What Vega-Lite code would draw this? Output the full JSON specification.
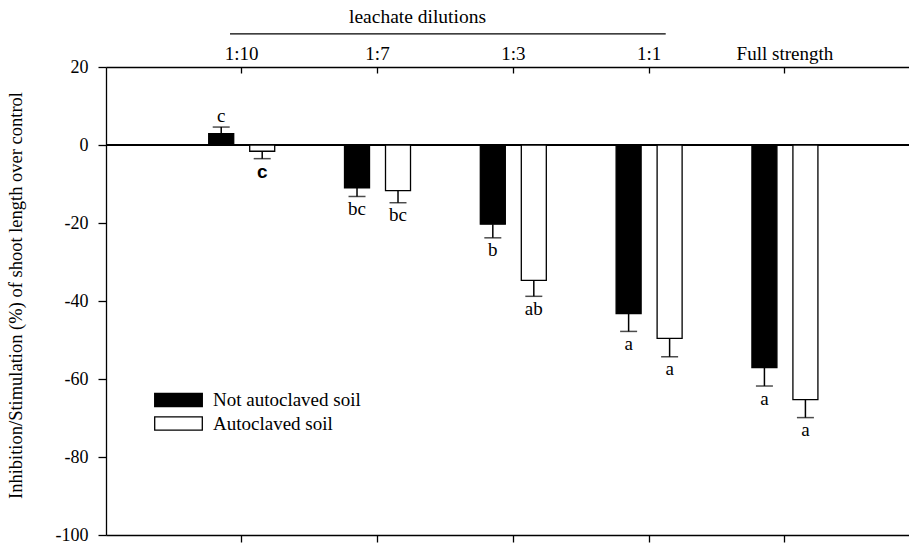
{
  "$schema": "https://vega.github.io/schema/vega-lite/v6.json",
  "width": 803,
  "height": 468,
  "autosize": {"type": "none"},
  "padding": {"left": 106, "top": 67, "right": 0, "bottom": 10},
  "background": "white",
  "config": {
    "view": {"stroke": null},
    "font": "Liberation Serif",
    "axis": {"domainColor": "black", "tickColor": "black", "labelColor": "black", "titleColor": "black", "grid": false, "domainWidth": 1.3, "tickWidth": 1.3, "labelFont": "Liberation Serif", "titleFont": "Liberation Serif", "titleFontWeight": "normal"}
  },
  "data": {"values": [
    {"dilution": "1:10", "soil": "Not autoclaved soil", "value": 2.9, "err": 4.6, "label": "c"},
    {"dilution": "1:10", "soil": "Autoclaved soil", "value": -1.6, "err": -3.5, "label": "c"},
    {"dilution": "1:7", "soil": "Not autoclaved soil", "value": -11.0, "err": -13.2, "label": "bc"},
    {"dilution": "1:7", "soil": "Autoclaved soil", "value": -11.7, "err": -14.8, "label": "bc"},
    {"dilution": "1:3", "soil": "Not autoclaved soil", "value": -20.3, "err": -23.8, "label": "b"},
    {"dilution": "1:3", "soil": "Autoclaved soil", "value": -34.7, "err": -38.8, "label": "ab"},
    {"dilution": "1:1", "soil": "Not autoclaved soil", "value": -43.2, "err": -47.8, "label": "a"},
    {"dilution": "1:1", "soil": "Autoclaved soil", "value": -49.6, "err": -54.3, "label": "a"},
    {"dilution": "Full strength", "soil": "Not autoclaved soil", "value": -57.1, "err": -61.8, "label": "a"},
    {"dilution": "Full strength", "soil": "Autoclaved soil", "value": -65.3, "err": -69.9, "label": "a"}
  ]},
  "resolve": {"axis": {"x": "independent", "y": "independent"}},
  "layer": [
    {
      "mark": {"type": "rule", "color": "black", "strokeWidth": 1.3},
      "encoding": {"y": {"datum": 0, "type": "quantitative", "axis": null}}
    },
    {
      "mark": {"type": "bar", "stroke": "black", "strokeWidth": 1.3},
      "encoding": {
        "x": {
          "field": "dilution", "type": "nominal",
          "scale": {"domain": ["1:10", "1:7", "1:3", "1:1", "Full strength"], "paddingInner": 0.514, "paddingOuter": 0.7135, "align": 0.53},
          "axis": {"orient": "top", "tickSize": -6, "labelPadding": 13.4, "labelBaseline": "alphabetic", "labelFontSize": 19, "labelAngle": 0, "title": "leachate dilutions", "titleFontSize": 19.5, "titleX": 311, "titleY": -45, "titleBaseline": "alphabetic", "titleAlign": "center"}
        },
        "xOffset": {"field": "soil", "type": "nominal", "scale": {"domain": ["Not autoclaved soil", "Autoclaved soil"], "paddingInner": 0.39, "paddingOuter": 0}},
        "y": {
          "field": "value", "type": "quantitative",
          "scale": {"domain": [-100, 20], "nice": false, "zero": true},
          "axis": {"orient": "left", "values": [-100, -80, -60, -40, -20, 0, 20], "tickSize": 8, "labelPadding": 10, "labelFontSize": 18, "labelExpr": "datum.value < 0 ? '-' + abs(datum.value) : '' + datum.value", "title": "Inhibition/Stimulation (%) of shoot length over control", "titleFontSize": 18.5, "titleX": -84.5, "titleY": 228, "titleAngle": -90, "titleBaseline": "alphabetic", "titleAlign": "center"}
        },
        "fill": {
          "field": "soil", "type": "nominal",
          "scale": {"domain": ["Not autoclaved soil", "Autoclaved soil"], "range": ["black", "white"]},
          "legend": {"orient": "none", "legendX": 63, "legendY": 323.5, "title": null, "symbolType": "M-3.4,-0.96H3.4V0.96H-3.4Z", "symbolSize": 196, "symbolStrokeColor": "black", "symbolStrokeWidth": 1.3, "labelFont": "Liberation Serif", "labelFontSize": 19, "labelColor": "black", "labelOffset": 25, "rowPadding": 3.5, "padding": 0}
        }
      }
    },
    {
      "mark": {"type": "rule", "color": "black", "strokeWidth": 1.5},
      "encoding": {
        "x": {"field": "dilution", "type": "nominal", "axis": {"orient": "bottom", "labels": false, "tickSize": 7, "title": null}},
        "xOffset": {"field": "soil", "type": "nominal"},
        "y": {"field": "value", "type": "quantitative", "axis": null},
        "y2": {"field": "err"}
      }
    },
    {
      "mark": {"type": "tick", "orient": "horizontal", "size": 17, "thickness": 1.5, "color": "black"},
      "encoding": {
        "x": {"field": "dilution", "type": "nominal", "axis": null},
        "xOffset": {"field": "soil", "type": "nominal"},
        "y": {"field": "err", "type": "quantitative", "axis": null}
      }
    },
    {
      "transform": [{"filter": "datum.value >= 0"}],
      "mark": {"type": "text", "dy": -11, "fontSize": 19, "font": "Liberation Serif", "baseline": "middle", "color": "black"},
      "encoding": {
        "x": {"field": "dilution", "type": "nominal", "axis": null},
        "xOffset": {"field": "soil", "type": "nominal"},
        "y": {"field": "err", "type": "quantitative", "axis": null},
        "text": {"field": "label"}
      }
    },
    {
      "transform": [{"filter": "datum.value < 0 && !(datum.dilution == '1:10')"}],
      "mark": {"type": "text", "dy": 12.5, "fontSize": 19, "font": "Liberation Serif", "baseline": "middle", "color": "black"},
      "encoding": {
        "x": {"field": "dilution", "type": "nominal", "axis": null},
        "xOffset": {"field": "soil", "type": "nominal"},
        "y": {"field": "err", "type": "quantitative", "axis": null},
        "text": {"field": "label"}
      }
    },
    {
      "transform": [{"filter": "datum.value < 0 && datum.dilution == '1:10'"}],
      "mark": {"type": "text", "dy": 13, "fontSize": 19, "font": "Liberation Sans", "fontWeight": "bold", "baseline": "middle", "color": "black"},
      "encoding": {
        "x": {"field": "dilution", "type": "nominal", "axis": null},
        "xOffset": {"field": "soil", "type": "nominal"},
        "y": {"field": "err", "type": "quantitative", "axis": null},
        "text": {"field": "label"}
      }
    },
    {
      "data": {"values": [{"from": "1:10", "to": "1:1"}]},
      "mark": {"type": "rule", "color": "black", "strokeWidth": 1.1, "xOffset": -11.7, "x2Offset": 16.6},
      "encoding": {
        "x": {"field": "from", "type": "nominal", "axis": null},
        "x2": {"field": "to"},
        "y": {"datum": 28.5, "type": "quantitative", "axis": null}
      }
    }
  ]
}
